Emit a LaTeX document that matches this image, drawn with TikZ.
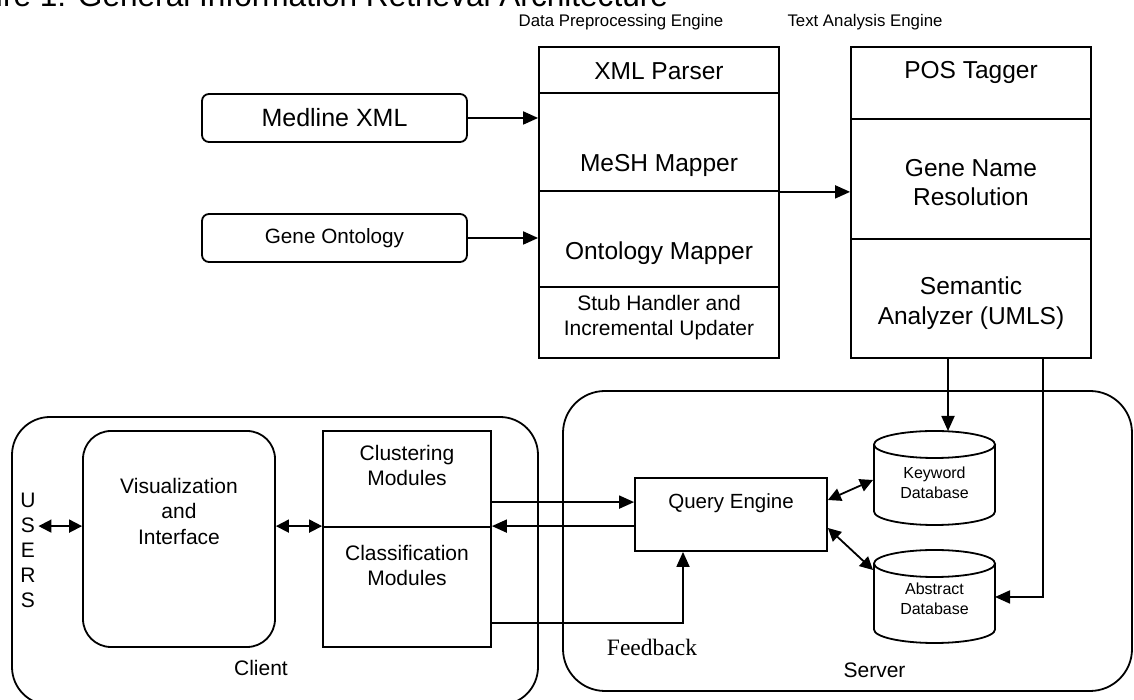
\documentclass[tikz,border=0pt]{standalone}
\usepackage{fontspec}
\setmainfont{Liberation Sans}
\newfontfamily\seriffont{Liberation Serif}
\usetikzlibrary{arrows.meta}

\begin{document}
\begin{tikzpicture}[x=1pt, y=1pt, line width=1.8pt,
  arr/.style={-{Triangle[length=15pt,width=13pt]}},
  darr/.style={{Triangle[length=13pt,width=13pt]}-{Triangle[length=13pt,width=13pt]}},
  frame/.style={draw, rectangle, inner sep=0pt, line width=1.8pt},
  txt/.style={align=center, inner sep=0pt},
  bigtxt/.style={txt, font=\fontsize{24.5}{29.5}\selectfont},
  midtxt/.style={txt, font=\fontsize{21}{25.5}\selectfont},
  smalltxt/.style={txt, font=\fontsize{16}{20}\selectfont},
  headtxt/.style={txt, font=\fontsize{16.8}{20}\selectfont},
]
\useasboundingbox (0,0) rectangle (1134,700);
\clip (0,0) rectangle (1134,700);

% caption line at the top edge
\node[anchor=base east, inner sep=0pt, font=\fontsize{31.6}{36}\selectfont] (title)
  at (669,693) {Figure 1: General Information Retrieval Architecture};

% ---------- Data Preprocessing Engine ----------
\node[headtxt] (dpehead) at (621,678) {Data Preprocessing Engine};
\node[frame, minimum width=240pt, minimum height=46pt] (xmlp) at (659,630) {};
\node[frame, minimum width=240pt, minimum height=98pt] (mesh) at (659,558) {};
\node[frame, minimum width=240pt, minimum height=96pt] (onto) at (659,461) {};
\node[frame, minimum width=240pt, minimum height=71pt] (stub) at (659,377.5) {};
\node[bigtxt] (xmlptxt) at (659,629) {XML Parser};
\node[bigtxt] (meshtxt) at (659,535) {MeSH Mapper};
\node[bigtxt] (ontotxt) at (659,447) {Ontology Mapper};
\node[midtxt] (stubtxt) at (659,382.5) {Stub Handler and\\Incremental Updater};

% ---------- Text Analysis Engine ----------
\node[headtxt] (taehead) at (865,678) {Text Analysis Engine};
\node[frame, minimum width=240pt, minimum height=72pt] (pos) at (971,617) {};
\node[frame, minimum width=240pt, minimum height=120pt] (gnr) at (971,521) {};
\node[frame, minimum width=240pt, minimum height=119pt] (sem) at (971,401.5) {};
\node[bigtxt] (postxt) at (971,627) {POS Tagger};
\node[bigtxt] (gnrtxt) at (971,517.5) {Gene Name\\Resolution};
\node[bigtxt] (semtxt) at (971,397) {Semantic\\Analyzer (UMLS)};

% ---------- data sources ----------
\node[frame, rounded corners=7pt, minimum width=265pt, minimum height=48pt,
      font=\fontsize{25}{30}\selectfont] (medline) at (334.5,582) {Medline XML};
\node[frame, rounded corners=7pt, minimum width=265pt, minimum height=48pt,
      font=\fontsize{20.7}{25}\selectfont] (geneont) at (334.5,462) {Gene Ontology};

\draw[arr] (medline.east) -- (medline.east -| xmlp.west);
\draw[arr] (geneont.east) -- (geneont.east -| onto.west);
\draw[arr] (mesh.south east) -- (mesh.south east -| gnr.west);

% ---------- Client ----------
\node[frame, rounded corners=38pt, minimum width=526pt, minimum height=288pt] (client) at (275,139) {};
\node[midtxt] (clientlbl) at (261,32) {Client};
\node[frame, rounded corners=28pt, minimum width=192pt, minimum height=216pt] (vis) at (179,161) {};
\node[midtxt] (vistxt) at (179,189) {Visualization\\and\\Interface};
\node[frame, minimum width=168pt, minimum height=96pt] (clu) at (407,221) {};
\node[frame, minimum width=168pt, minimum height=120pt] (cla) at (407,113) {};
\node[midtxt] (clutxt) at (407,234.5) {Clustering\\Modules};
\node[midtxt] (clatxt) at (407,134.5) {Classification\\Modules};
\node[txt, font=\fontsize{21}{25}\selectfont] (users) at (28,150) {U\\S\\E\\R\\S};

\draw[darr] ([xshift=2pt]users.east |- cla.north) -- (vis.west |- cla.north);
\draw[darr] (vis.east |- cla.north) -- (cla.north west);

% ---------- Server ----------
\node[frame, rounded corners=42pt, minimum width=569pt, minimum height=300pt] (server) at (847.5,159) {};
\node[midtxt] (serverlbl) at (874.5,30) {Server};
\node[frame, minimum width=192pt, minimum height=73pt] (qe) at (731,185.5) {};
\node[txt, font=\fontsize{20.5}{25}\selectfont] (qetxt) at (731,197) {Query Engine};

% databases
\draw (874,255.5) -- (874,188.5)
  arc[start angle=180, end angle=360, x radius=60.5pt, y radius=13.5pt] -- (995,255.5);
\draw (934.5,255.5) ellipse[x radius=60.5pt, y radius=13.5pt];
\node[smalltxt] (kwdb) at (934.5,217) {Keyword\\Database};
\draw (874,136.5) -- (874,70.5)
  arc[start angle=180, end angle=360, x radius=60.5pt, y radius=13.5pt] -- (995,136.5);
\draw (934.5,136.5) ellipse[x radius=60.5pt, y radius=13.5pt];
\node[smalltxt] (abdb) at (934.5,101.5) {Abstract\\Database};

\coordinate (kwtop) at (948,269);
\coordinate (kwside) at (873,220);
\coordinate (abside) at (873,130);
\coordinate (abright) at (995,103);

% client <-> server
\draw[arr] ([yshift=24pt]cla.north east) -- ([yshift=24pt]cla.north east -| qe.west);
\draw[arr] (qe.west |- cla.north) -- (cla.north east);
\draw[arr] ([yshift=25pt]cla.south east) -| ([xshift=-48pt]qe.south);
\node[inner sep=0pt, font=\seriffont\fontsize{23.5}{28}\selectfont] (fb) at (652,53) {Feedback};

% query engine <-> databases
\draw[darr] ([yshift=14.5pt]qe.east) -- (kwside);
\draw[darr] ([yshift=-13.5pt]qe.east) -- (abside);

% text analysis -> databases
\draw[arr] ([xshift=-23pt]sem.south) -- (kwtop);
\draw[arr] ([xshift=72pt]sem.south) |- (abright);
\end{tikzpicture}
\end{document}
